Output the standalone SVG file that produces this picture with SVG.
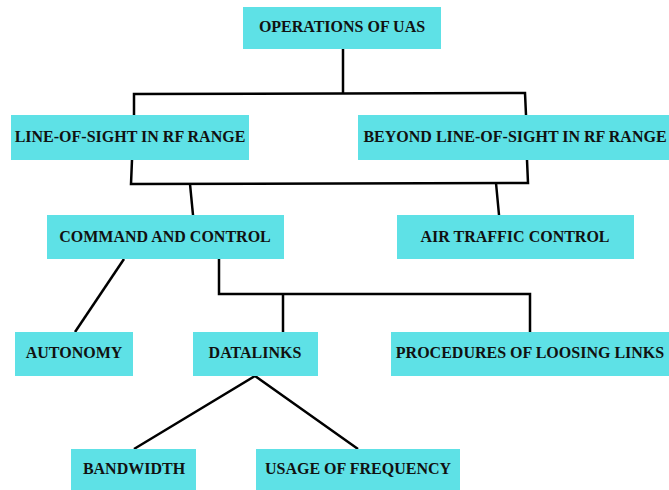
<svg xmlns="http://www.w3.org/2000/svg" width="669" height="490" viewBox="0 0 669 490">
<style>
.box{fill:#5ee1e6}
.t{font-family:"Liberation Serif","Times New Roman",serif;font-weight:bold;font-size:16px;fill:#111;text-anchor:middle;dominant-baseline:central}
.c{fill:none;stroke:#000;stroke-width:2.5;stroke-linejoin:miter}
</style>
<rect width="669" height="490" fill="#fff"/>
<g id="connectors">
<path class="c" d="M343,49 L343,93"/>
<path class="c" d="M134,115 L134,94 L525,93 L526,115"/>
<path class="c" d="M132,160 L131,184 L528,183 L527,160"/>
<path class="c" d="M190,184 L193,215"/>
<path class="c" d="M496,183 L499,215"/>
<path class="c" d="M124,259 L75,332"/>
<path class="c" d="M219,259 L219,294 L530,294 L530,332"/>
<path class="c" d="M283,294 L283,332"/>
<path class="c" d="M134,449 L255,376 L358,449"/>
</g>
<g id="n1"><rect class="box" x="243" y="7" width="198" height="42"/><text class="t" x="342" y="26">OPERATIONS OF UAS</text></g>
<g id="n2"><rect class="box" x="11" y="115" width="238" height="45"/><text class="t" x="130" y="136">LINE-OF-SIGHT IN RF RANGE</text></g>
<g id="n3"><rect class="box" x="358" y="115" width="311" height="45"/><text class="t" x="515" y="136">BEYOND LINE-OF-SIGHT IN RF RANGE</text></g>
<g id="n4"><rect class="box" x="47" y="215" width="237" height="44"/><text class="t" x="165" y="236">COMMAND AND CONTROL</text></g>
<g id="n5"><rect class="box" x="397" y="215" width="237" height="44"/><text class="t" x="515" y="236">AIR TRAFFIC CONTROL</text></g>
<g id="n6"><rect class="box" x="15" y="332" width="118" height="44"/><text class="t" x="74" y="352">AUTONOMY</text></g>
<g id="n7"><rect class="box" x="193" y="332" width="125" height="44"/><text class="t" x="255" y="352">DATALINKS</text></g>
<g id="n8"><rect class="box" x="391" y="332" width="278" height="44"/><text class="t" x="530" y="352">PROCEDURES OF LOOSING LINKS</text></g>
<g id="n9"><rect class="box" x="71" y="449" width="125" height="41"/><text class="t" x="134" y="468">BANDWIDTH</text></g>
<g id="n10"><rect class="box" x="256" y="449" width="204" height="41"/><text class="t" x="358" y="468">USAGE OF FREQUENCY</text></g>
</svg>
